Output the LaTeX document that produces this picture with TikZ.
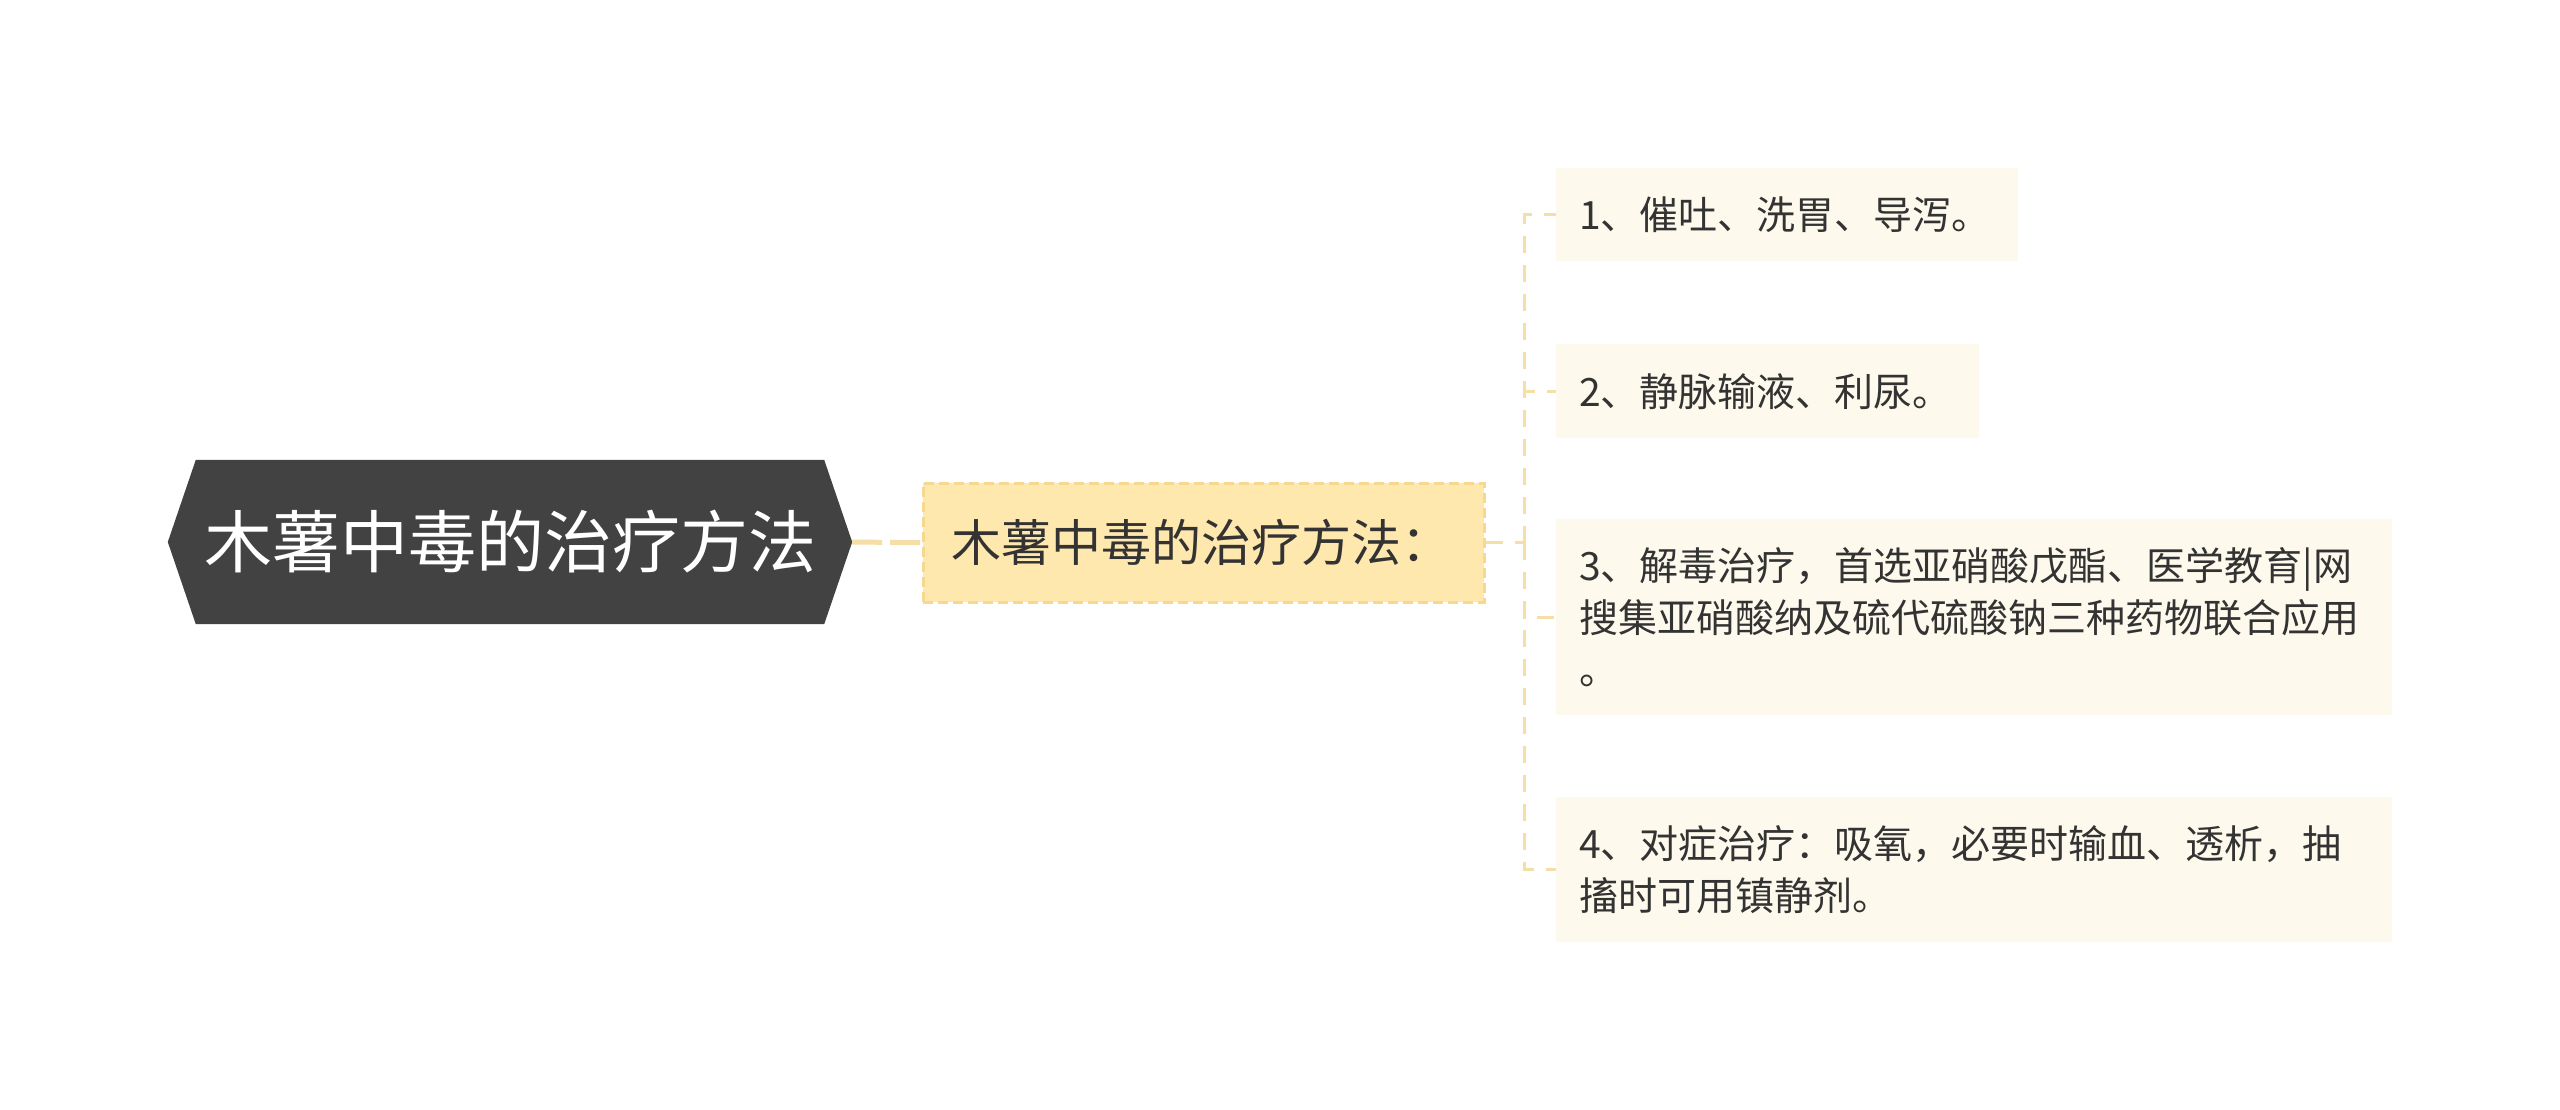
\documentclass[tikz,border=0pt]{standalone}
\usepackage{fontspec}
\setmainfont{Noto Sans CJK SC}
\usetikzlibrary{backgrounds}
\pgfdeclarelayer{paper}
\pgfsetlayers{paper,background,main}
\definecolor{rootfill}{HTML}{424242}
\definecolor{midfill}{HTML}{FFE8AE}
\definecolor{midline}{HTML}{F8D890}
\definecolor{leaffill}{HTML}{FDF9EC}
\definecolor{connc}{HTML}{F6DFA6}
\definecolor{txt}{HTML}{333333}
\tikzset{
  conn/.style={draw=connc, line width=3pt, dash pattern=on 17pt off 12pt},
  rootconn/.style={draw=connc, line width=5pt, dash pattern=on 30pt off 8pt},
  leafbox/.style={fill=leaffill, draw=none, anchor=north west, inner xsep=23pt, inner ysep=0pt,
    align=left, text=txt, font=\fontsize{39}{52}\selectfont},
}
\begin{document}
\begin{tikzpicture}[x=1pt, y=-1pt]
\begin{pgfonlayer}{paper}
\fill[white] (0,0) rectangle (2560,1110);
\end{pgfonlayer}
\useasboundingbox (0,0) rectangle (2560,1110);
% root
\node (root) [minimum width=684pt, minimum height=164pt, inner sep=0pt, text=white,
  font=\fontsize{68}{80}\selectfont] at (510,542) {木薯中毒的治疗方法};
\begin{scope}[on background layer]
\fill[rootfill] (root.west) -- ([xshift=28pt]root.north west) -- ([xshift=-28pt]root.north east)
  -- (root.east) -- ([xshift=-28pt]root.south east) -- ([xshift=28pt]root.south west) -- cycle;
\end{scope}
% middle
\node (mid) [anchor=north west, minimum width=561pt, minimum height=119pt, inner xsep=28pt,
  fill=midfill, draw=midline, line width=2.5pt, dash pattern=on 10pt off 5pt,
  text=txt, font=\fontsize{50}{60}\selectfont, align=left, text width=505pt] at (922,482) {木薯中毒的治疗方法：};
% leaves
\node (c1) [leafbox, text width=416pt, minimum height=93pt] at (1556,168) {1、催吐、洗胃、导泻。};
\node (c2) [leafbox, text width=377pt, minimum height=94pt] at (1556,344) {2、静脉输液、利尿。};
\node (c3) [leafbox, text width=790pt, minimum height=196pt] at (1556,519) {3、解毒治疗，首选亚硝酸戊酯、医学教育|网\\搜集亚硝酸纳及硫代硫酸钠三种药物联合应用\\。};
\node (c4) [leafbox, text width=790pt, minimum height=145pt] at (1556,797) {4、对症治疗：吸氧，必要时输血、透析，抽\\搐时可用镇静剂。};
% connectors
\begin{scope}[on background layer]
\draw[rootconn] (root.east) -- (mid.west);
\draw[conn] (mid.east) -- ++(39,0) coordinate (trunk);
\draw[conn] (trunk) |- (c1.west);
\draw[conn] (trunk) |- (c2.west);
\draw[conn] (trunk) |- (c3.west);
\draw[conn] (trunk) |- (c4.west);
\end{scope}
\end{tikzpicture}
\end{document}
